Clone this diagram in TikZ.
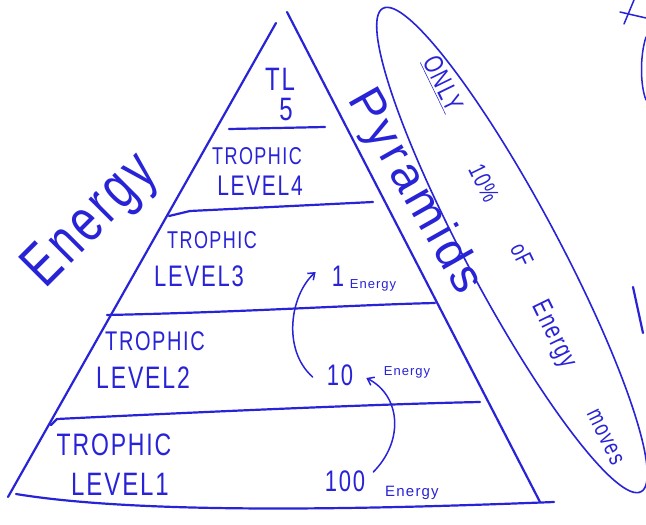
\documentclass[tikz,border=0pt]{standalone}
\usepackage{fontspec}
\usepackage{graphicx}
\usetikzlibrary{arrows.meta,shapes.geometric}
\newfontfamily\hand[LetterSpace=8]{Liberation Sans}
\definecolor{ink}{RGB}{40,35,215}
\newcommand{\hw}[1]{\scalebox{1}[1.35]{#1}}
\newcommand{\fs}[1]{\fontsize{#1}{#1}\selectfont}
\begin{document}
\begin{tikzpicture}[x=1pt,y=-1pt, line cap=round, line join=round,
  pen/.style={draw=ink, line width=2.2pt},
  thinpen/.style={draw=ink, line width=1.5pt},
  lbl/.style={text=ink, font=\hand, inner sep=0pt, anchor=center},
  arr/.style={draw=ink, line width=1.5pt, -{Straight Barb[length=6pt,width=9pt]}}]
\useasboundingbox (0,0) rectangle (646,525);
\fill[white] (0,0) rectangle (646,525);

% pyramid outline
\coordinate (apexL) at (276,23);
\coordinate (apexR) at (287,12);
\coordinate (botL) at (8,497);
\coordinate (botR) at (540,502);
\draw[pen] (apexL) -- (botL);
\draw[pen] (apexR) -- (botR);
\coordinate (b0) at (16,494);
\coordinate (b1) at (554,502);
\draw[pen] (b0) .. controls (150,516) and (400,508) .. (b1);

% level dividers
\draw[pen] (229,129) -- (325,127);
\draw[pen] (169,216) -- (190,211) -- (373,202);
\draw[pen] (107,315) .. controls (250,312) and (350,305) .. (435,303);
\draw[pen] (51,425) -- (57,419) .. controls (200,412) and (380,404) .. (480,402);

% level labels
\node[lbl] (tl) at (280,79) {\fs{24}\hw{TL}};
\node[lbl] (tl5) at (286,110) {\fs{24}\hw{5}};
\node[lbl] (t4) at (257,156) {\fs{18}\hw{TROPHIC}};
\node[lbl] (l4) at (260,186) {\fs{21}\hw{LEVEL4}};
\node[lbl] (t3) at (212,240) {\fs{18}\hw{TROPHIC}};
\node[lbl] (l3) at (199,276) {\fs{22}\hw{LEVEL3}};
\node[lbl] (t2) at (155,341) {\fs{20}\hw{TROPHIC}};
\node[lbl] (l2) at (143,378) {\fs{23}\hw{LEVEL2}};
\node[lbl] (t1) at (114,445) {\fs{23}\hw{TROPHIC}};
\node[lbl] (l1) at (120,484) {\fs{24}\hw{LEVEL1}};

% energy amounts
\node[lbl] (n1) at (338,276) {\fs{22}\hw{1}};
\node[lbl] (e1) at (373,285) {\fs{13}Energy};
\node[lbl] (n10) at (340,375) {\fs{22}\hw{10}};
\node[lbl] (e10) at (407,372) {\fs{13}Energy};
\node[lbl] (n100) at (345,481) {\fs{22}\hw{100}};
\node[lbl] (e100) at (412,493) {\fs{15}Energy};

\draw[arr] ([xshift=-14pt,yshift=-2pt]n10.west) .. controls (282,350) and (290,295) .. ([xshift=-16pt,yshift=4pt]n1.west);
\draw[arr] ([xshift=8pt,yshift=9pt]n100.east) .. controls (405,440) and (400,395) .. ([xshift=13pt,yshift=-3pt]n10.east);

% titles
\node[lbl, rotate=45] (energy) at (92,222) {\fs{45}\hw{Energy}};
\node[lbl, rotate=-60.5] (pyr) at (414,192) {\fs{48}Pyramids};

% note loop
\node[draw=ink, line width=1.6pt, ellipse, minimum width=548pt, minimum height=92pt, rotate=-61.9, inner sep=0pt] (loop) at (512,250) {};
\node[lbl, rotate=-64] (w1) at (442,84) {\fs{20}\hw{\underline{ONLY}}};
\node[lbl, rotate=-64] (w2) at (484,183) {\fs{18}\hw{10\%}};
\node[lbl, rotate=-64] (w3) at (522,255) {\fs{18}\hw{oF}};
\node[lbl, rotate=-64] (w4) at (553,335) {\fs{20}\hw{Energy}};
\node[lbl, rotate=-64] (w5) at (605,437) {\fs{18}\hw{moves}};

% fragments at the right edge
\draw[thinpen] (624,24) -- (634,0);
\draw[thinpen] (620,12) -- (646,18);
\draw[thinpen] (646,37) .. controls (640,55) and (640,85) .. (646,100);
\draw[pen] (633,287) -- (643,333);
\end{tikzpicture}
\end{document}
